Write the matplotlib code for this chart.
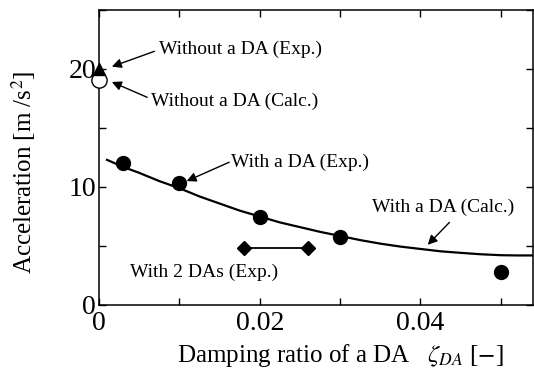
import numpy as np
import matplotlib
matplotlib.use("Agg")
import matplotlib.pyplot as plt

plt.rcParams['font.family'] = ['Liberation Serif', 'DejaVu Serif']
plt.rcParams['mathtext.fontset'] = 'stix'

# Experimental results with one DA
exp_x = [0.003, 0.010, 0.020, 0.030, 0.050]
exp_y = [12.0, 10.3, 7.5, 5.8, 2.8]

# Calculated curve with one DA
calc_x = [0.001, 0.003, 0.005, 0.0075, 0.010, 0.0125, 0.015, 0.0175, 0.020,
          0.0225, 0.025, 0.0275, 0.030, 0.0325, 0.035, 0.0375, 0.040,
          0.0425, 0.045, 0.0475, 0.050, 0.052, 0.054]
calc_y = [12.3, 11.7, 11.2, 10.5, 9.9, 9.2, 8.6, 8.0, 7.5,
          7.0, 6.6, 6.2, 5.85, 5.5, 5.2, 4.95, 4.75,
          4.55, 4.42, 4.3, 4.22, 4.2, 4.2]

# With 2 DAs (Exp.)
two_x = [0.018, 0.026]
two_y = [4.8, 4.8]

# Without a DA
no_da_exp = (0.0, 20.0)
no_da_calc = (0.0, 19.1)

fig = plt.figure(figsize=(5.34, 3.78), dpi=100)
ax = fig.add_axes([99 / 534, 73 / 378, 434 / 534, 295 / 378])

ax.plot(calc_x, calc_y, '-', color='black', lw=1.6, zorder=2)
ax.plot(exp_x, exp_y, 'o', color='black', ms=10, zorder=3, clip_on=False)
ax.plot(two_x, two_y, 'D-', color='black', ms=7.5, lw=1.3, zorder=3)
ax.plot(*no_da_calc, 'o', mfc='white', mec='black', mew=1.0, ms=11,
        zorder=4, clip_on=False)
ax.plot(*no_da_exp, '^', color='black', ms=9, zorder=5, clip_on=False)

ax.set_xlim(0, 0.054)
ax.set_ylim(0, 25)
ax.set_xticks([0, 0.01, 0.02, 0.03, 0.04, 0.05])
ax.set_xticklabels(['0', '', '0.02', '', '0.04', ''])
ax.set_yticks([0, 5, 10, 15, 20, 25])
ax.set_yticklabels(['0', '', '10', '', '20', ''])
ax.tick_params(direction='in', length=5, width=1.0, labelsize=20,
               top=True, right=True, pad=2)
ax.tick_params(axis='x', pad=4)
for s in ax.spines.values():
    s.set_linewidth(1.1)

ax.set_xlabel(r'Damping ratio of a DA   $\zeta_{DA}$ [$-$]', fontsize=18)
ax.xaxis.set_label_coords(0.555, -0.125)
ax.set_ylabel('Acceleration [m /s$^2$]', fontsize=18)
ax.yaxis.set_label_coords(-0.14, 0.45)

arrow = dict(arrowstyle='-|>', color='black', lw=1.0, mutation_scale=14,
             shrinkA=0, shrinkB=0)
fs = 14
# arrows
ax.annotate('', xy=(0.0016, 20.2), xytext=(0.0069, 21.5), arrowprops=arrow)
ax.annotate('', xy=(0.0016, 18.9), xytext=(0.0060, 17.6), arrowprops=arrow)
ax.annotate('', xy=(0.0109, 10.5), xytext=(0.0162, 12.1), arrowprops=arrow)
ax.annotate('', xy=(0.0409, 5.1), xytext=(0.0436, 7.0), arrowprops=arrow)
# labels
ax.text(0.0075, 21.7, 'Without a DA (Exp.)', fontsize=fs, va='center')
ax.text(0.0065, 17.3, 'Without a DA (Calc.)', fontsize=fs, va='center')
ax.text(0.0164, 12.1, 'With a DA (Exp.)', fontsize=fs, va='center')
ax.text(0.0340, 8.3, 'With a DA (Calc.)', fontsize=fs, va='center')
ax.text(0.0038, 2.8, 'With 2 DAs (Exp.)', fontsize=fs, va='center')

fig.savefig('out.png', dpi=100)
